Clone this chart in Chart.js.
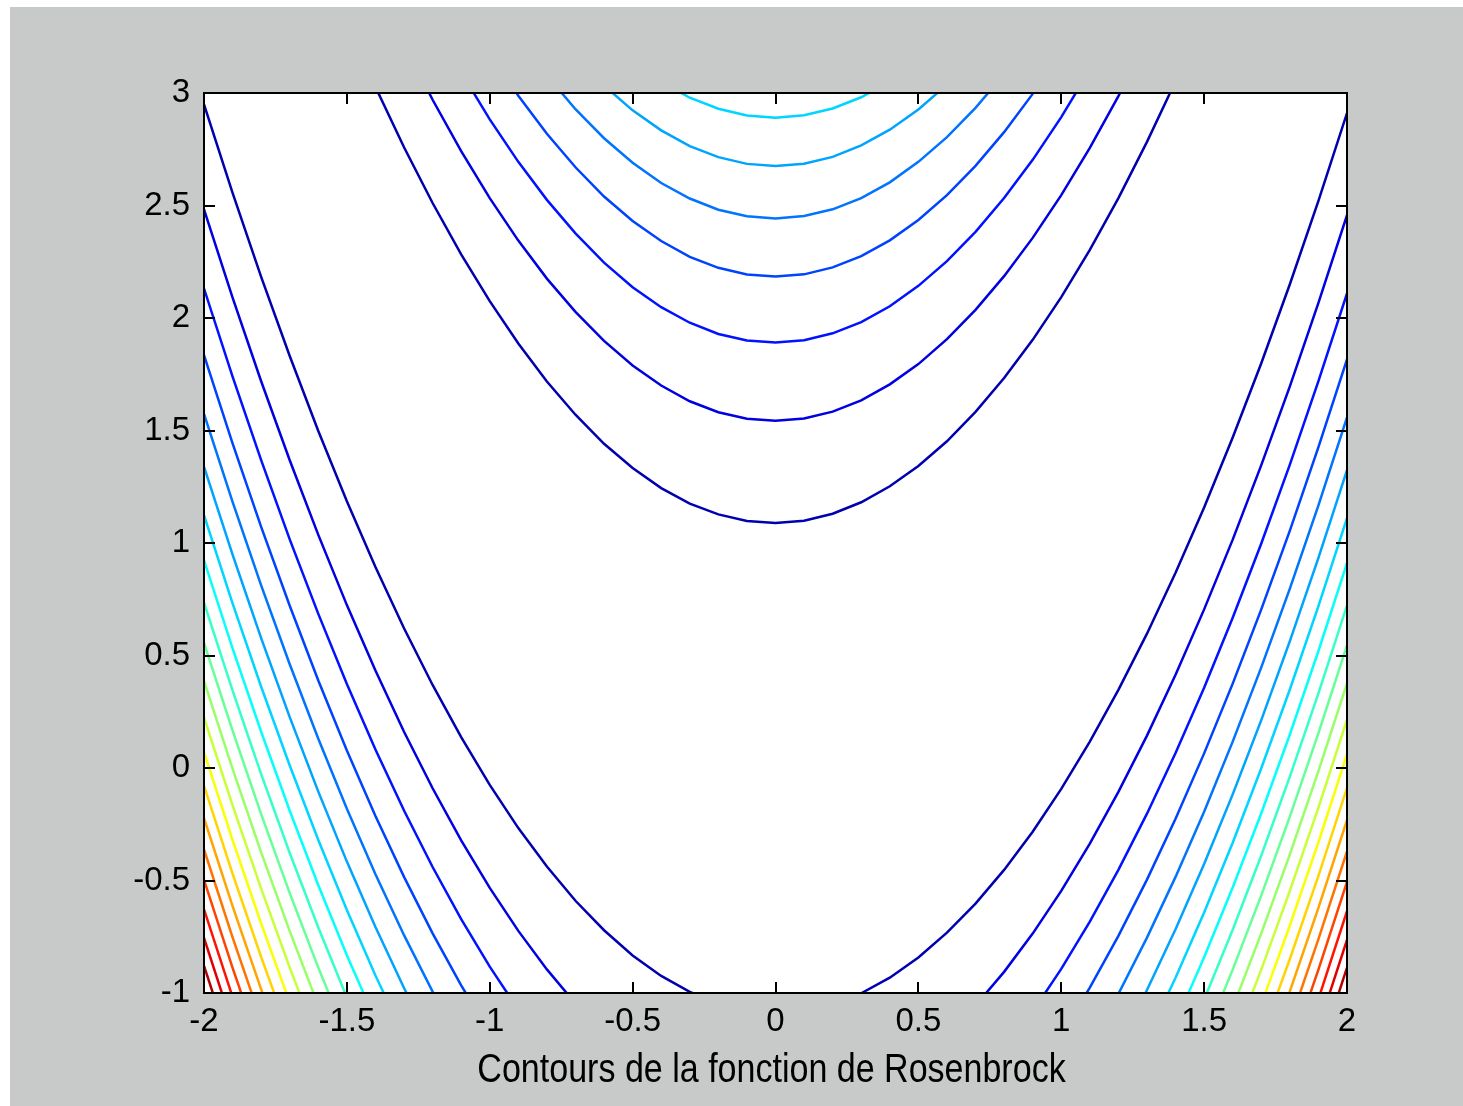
<!DOCTYPE html>
<html><head><meta charset="utf-8">
<script src="https://cdn.jsdelivr.net/npm/chart.js@4.4.1/dist/chart.umd.min.js"></script>
<style>
html,body{margin:0;padding:0;background:#fff;overflow:hidden;}
#wrap{position:absolute;left:10px;top:7px;width:1453px;height:1099px;}
</style></head><body>
<div id="wrap"><canvas id="c" width="1453" height="1099"></canvas></div>
<script>
// contour level values (20 levels) and colour range
const levelValues = [119.5, 239.0, 358.4, 477.9, 597.4, 716.9, 836.4, 955.8, 1075.3, 1194.8,
  1314.3, 1433.8, 1553.2, 1672.7, 1792.2, 1911.7, 2031.2, 2150.6, 2270.1, 2389.6];
const zRange = [0, 2509];
const xTickValues = [-2, -1.5, -1, -0.5, 0, 0.5, 1, 1.5, 2];
const yTickValues = [-1, -0.5, 0, 0.5, 1, 1.5, 2, 2.5, 3];
const xLabel = 'Contours de la fonction de Rosenbrock';

// left-hand contour lines (one per level), sampled at these x positions
const leftX = [-2, -1.9, -1.8, -1.7, -1.6, -1.5, -1.4, -1.3, -1.2, -1.1, -1, -0.9, -0.8, -0.7, -0.6, -0.5, -0.4, -0.3, -0.2];
const leftY = [
  [2.949, 2.556, 2.183, 1.831, 1.498, 1.186, 0.893, 0.621, 0.369, 0.137, -0.075, -0.267, -0.438, -0.590, -0.721, -0.833, -0.924, -0.995, -1.047],
  [2.483, 2.091, 1.719, 1.368, 1.036, 0.724, 0.433, 0.161, -0.090, -0.322, -0.533, -0.724, -0.895, -1.047],
  [2.131, 1.739, 1.368, 1.016, 0.685, 0.373, 0.082, -0.189, -0.440, -0.672, -0.883, -1.074],
  [1.835, 1.443, 1.072, 0.721, 0.389, 0.078, -0.213, -0.484, -0.735, -0.966, -1.177],
  [1.574, 1.183, 0.812, 0.461, 0.130, -0.181, -0.472, -0.743, -0.994, -1.225],
  [1.339, 0.948, 0.577, 0.226, -0.105, -0.416, -0.707, -0.978, -1.229],
  [1.124, 0.732, 0.361, 0.011, -0.320, -0.631, -0.922, -1.193],
  [0.923, 0.532, 0.161, -0.190, -0.521, -0.832, -1.122],
  [0.735, 0.344, -0.027, -0.378, -0.709, -1.020],
  [0.556, 0.166, -0.205, -0.556, -0.887, -1.198],
  [0.387, -0.004, -0.375, -0.725, -1.056],
  [0.225, -0.166, -0.536, -0.887, -1.218],
  [0.070, -0.320, -0.691, -1.042],
  [-0.079, -0.470, -0.840, -1.191],
  [-0.223, -0.614, -0.984, -1.335],
  [-0.362, -0.753, -1.123],
  [-0.497, -0.888, -1.258],
  [-0.628, -1.018],
  [-0.755, -1.146],
  [-0.879, -1.270]
];

// right-hand contour lines (one per level)
const rightX = [2, 1.9, 1.8, 1.7, 1.6, 1.5, 1.4, 1.3, 1.2, 1.1, 1, 0.9, 0.8, 0.7, 0.6, 0.5, 0.4, 0.3, 0.2];
const rightY = [
  [2.911, 2.521, 2.150, 1.799, 1.469, 1.158, 0.868, 0.597, 0.347, 0.117, -0.093, -0.283, -0.453, -0.603, -0.732, -0.842, -0.932, -1.001, -1.050],
  [2.457, 2.067, 1.696, 1.346, 1.015, 0.705, 0.414, 0.144, -0.106, -0.336, -0.546, -0.736, -0.906, -1.056],
  [2.109, 1.719, 1.348, 0.998, 0.668, 0.357, 0.067, -0.203, -0.453, -0.683, -0.893, -1.083],
  [1.816, 1.426, 1.055, 0.705, 0.375, 0.065, -0.226, -0.496, -0.746, -0.976, -1.186],
  [1.558, 1.167, 0.797, 0.447, 0.117, -0.194, -0.484, -0.754, -1.004],
  [1.324, 0.934, 0.564, 0.213, -0.117, -0.427, -0.717, -0.987, -1.238],
  [1.110, 0.719, 0.349, -0.001, -0.332, -0.642, -0.932, -1.202],
  [0.910, 0.520, 0.149, -0.201, -0.531, -0.841, -1.132],
  [0.722, 0.332, -0.038, -0.389, -0.719, -1.029],
  [0.545, 0.155, -0.216, -0.566, -0.896, -1.206],
  [0.376, -0.014, -0.384, -0.735, -1.065],
  [0.215, -0.176, -0.546, -0.896, -1.226],
  [0.060, -0.330, -0.700, -1.051],
  [-0.089, -0.479, -0.849, -1.199],
  [-0.232, -0.622, -0.993, -1.343],
  [-0.371, -0.761, -1.132],
  [-0.506, -0.896, -1.266],
  [-0.636, -1.027],
  [-0.764, -1.154],
  [-0.887, -1.278]
];

// U-shaped contour lines at the top (levels 1..7)
const topX = [
  [-1.4, -1.3, -1.2, -1.1, -1, -0.9, -0.8, -0.7, -0.6, -0.5, -0.4, -0.3, -0.2, -0.1, 0, 0.1, 0.2, 0.3, 0.4, 0.5, 0.6, 0.7, 0.8, 0.9, 1, 1.1, 1.2, 1.3, 1.4],
  [-1.3, -1.2, -1.1, -1, -0.9, -0.8, -0.7, -0.6, -0.5, -0.4, -0.3, -0.2, -0.1, 0, 0.1, 0.2, 0.3, 0.4, 0.5, 0.6, 0.7, 0.8, 0.9, 1, 1.1, 1.2, 1.3],
  [-1.1, -1, -0.9, -0.8, -0.7, -0.6, -0.5, -0.4, -0.3, -0.2, -0.1, 0, 0.1, 0.2, 0.3, 0.4, 0.5, 0.6, 0.7, 0.8, 0.9, 1, 1.1],
  [-1, -0.9, -0.8, -0.7, -0.6, -0.5, -0.4, -0.3, -0.2, -0.1, 0, 0.1, 0.2, 0.3, 0.4, 0.5, 0.6, 0.7, 0.8, 0.9, 1],
  [-0.8, -0.7, -0.6, -0.5, -0.4, -0.3, -0.2, -0.1, 0, 0.1, 0.2, 0.3, 0.4, 0.5, 0.6, 0.7, 0.8],
  [-0.6, -0.5, -0.4, -0.3, -0.2, -0.1, 0, 0.1, 0.2, 0.3, 0.4, 0.5, 0.6],
  [-0.4, -0.3, -0.2, -0.1, 0, 0.1, 0.2, 0.3, 0.4]
];
const topY = [
  [3.027, 2.759, 2.511, 2.283, 2.075, 1.887, 1.718, 1.570, 1.441, 1.333, 1.244, 1.175, 1.127, 1.098, 1.089, 1.099, 1.130, 1.181, 1.252, 1.342, 1.452, 1.583, 1.733, 1.903, 2.093, 2.303, 2.533, 2.783, 3.052],
  [3.219, 2.970, 2.742, 2.533, 2.344, 2.175, 2.027, 1.898, 1.789, 1.700, 1.630, 1.581, 1.552, 1.543, 1.553, 1.584, 1.634, 1.705, 1.795, 1.906, 2.036, 2.186, 2.356, 2.546, 2.756, 2.986, 3.236],
  [3.092, 2.883, 2.694, 2.525, 2.376, 2.246, 2.137, 2.048, 1.979, 1.929, 1.900, 1.891, 1.901, 1.932, 1.982, 2.052, 2.143, 2.253, 2.383, 2.533, 2.703, 2.893, 3.103],
  [3.177, 2.988, 2.819, 2.670, 2.540, 2.431, 2.342, 2.272, 2.223, 2.193, 2.184, 2.194, 2.225, 2.275, 2.345, 2.436, 2.546, 2.676, 2.826, 2.996, 3.186],
  [3.078, 2.928, 2.799, 2.690, 2.600, 2.531, 2.481, 2.452, 2.442, 2.453, 2.483, 2.533, 2.603, 2.694, 2.804, 2.934, 3.084],
  [3.033, 2.923, 2.834, 2.764, 2.715, 2.685, 2.676, 2.686, 2.716, 2.767, 2.837, 2.927, 3.037],
  [3.049, 2.979, 2.930, 2.900, 2.890, 2.901, 2.931, 2.981, 3.052]
];

// jet colormap
function jet(v) {
  const t = (v - zRange[0]) / (zRange[1] - zRange[0]);
  const c = u => Math.max(0, Math.min(1, u));
  const r = c(Math.min(4 * t - 1.5, -4 * t + 4.5));
  const g = c(Math.min(4 * t - 0.5, -4 * t + 3.5));
  const b = c(Math.min(4 * t + 0.5, -4 * t + 2.5));
  return `rgb(${Math.round(r * 255)},${Math.round(g * 255)},${Math.round(b * 255)})`;
}

function lineDataset(xs, ys, level) {
  return {
    data: ys.map((y, i) => ({x: xs[i], y: y})),
    showLine: true, borderColor: jet(level), backgroundColor: jet(level),
    borderWidth: 2.5, pointRadius: 0, tension: 0, fill: false
  };
}

const datasets = [];
levelValues.forEach((lv, k) => {
  datasets.push(lineDataset(leftX, leftY[k], lv));
  datasets.push(lineDataset(rightX, rightY[k], lv));
  if (k < topY.length) datasets.push(lineDataset(topX[k], topY[k], lv));
});

const framePlugin = {
  id: 'frame',
  beforeDraw(chart) {
    const {ctx, chartArea: a} = chart;
    ctx.save();
    ctx.fillStyle = '#c8c9c9';
    ctx.fillRect(0, 0, chart.width, chart.height);
    ctx.fillStyle = '#ffffff';
    ctx.fillRect(a.left, a.top, a.right - a.left, a.bottom - a.top);
    ctx.restore();
  },
  afterDraw(chart) {
    const {ctx, chartArea: a, scales} = chart;
    const tl = 11;
    ctx.save();
    ctx.strokeStyle = '#000';
    ctx.lineWidth = 2;
    ctx.beginPath();
    xTickValues.forEach(v => {
      const px = Math.round(scales.x.getPixelForValue(v));
      ctx.moveTo(px, a.bottom); ctx.lineTo(px, a.bottom - tl);
      ctx.moveTo(px, a.top); ctx.lineTo(px, a.top + tl);
    });
    yTickValues.forEach(v => {
      const py = Math.round(scales.y.getPixelForValue(v));
      ctx.moveTo(a.left, py); ctx.lineTo(a.left + tl, py);
      ctx.moveTo(a.right, py); ctx.lineTo(a.right - tl, py);
    });
    ctx.stroke();
    ctx.strokeRect(a.left, a.top, a.right - a.left, a.bottom - a.top);
    // x-axis label, slightly condensed like the original screen font
    const cx = (a.left + a.right) / 2 - 4;
    ctx.translate(cx, a.bottom + 89);
    ctx.scale(0.83, 1);
    ctx.fillStyle = '#000';
    ctx.font = "41px 'Liberation Sans', Arial, sans-serif";
    ctx.textAlign = 'center';
    ctx.textBaseline = 'alphabetic';
    ctx.fillText(xLabel, 0, 0);
    ctx.restore();
  }
};

const tickFont = {family: "'Liberation Sans', Arial, sans-serif", size: 33};
const fmt = v => String(v);

new Chart(document.getElementById('c'), {
  type: 'scatter',
  data: {datasets},
  options: {
    responsive: false,
    animation: false,
    events: [],
    devicePixelRatio: 1,
    layout: {padding: {top: 86, right: 116, left: 0, bottom: 0}},
    plugins: {legend: {display: false}, tooltip: {enabled: false}},
    scales: {
      x: {
        type: 'linear', min: -2, max: 2,
        afterBuildTicks: s => { s.ticks = xTickValues.map(v => ({value: v})); },
        grid: {display: false, drawTicks: false},
        border: {display: false},
        ticks: {font: tickFont, color: '#000', padding: 9, maxRotation: 0, autoSkip: false, callback: fmt},
        afterFit: s => { s.height = 113; }
      },
      y: {
        type: 'linear', min: -1, max: 3,
        afterBuildTicks: s => { s.ticks = yTickValues.map(v => ({value: v})); },
        grid: {display: false, drawTicks: false},
        border: {display: false},
        ticks: {font: tickFont, color: '#000', padding: 14, autoSkip: false, callback: fmt},
        afterFit: s => { s.width = 194; }
      }
    }
  },
  plugins: [framePlugin]
});
</script>
</body></html>
